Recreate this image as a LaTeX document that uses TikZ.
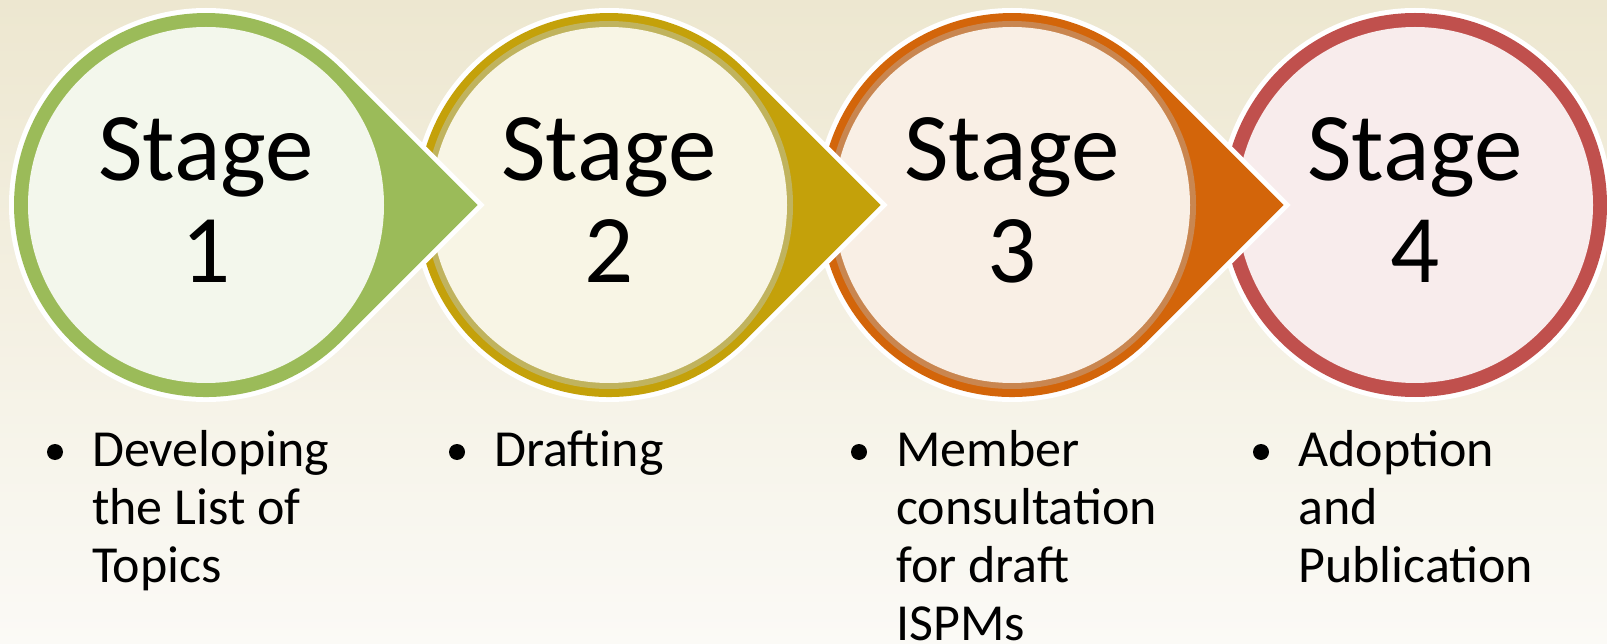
\documentclass[tikz,border=0pt]{standalone}
\usepackage{fontspec}
\setmainfont{Carlito}
\definecolor{bgtop}{HTML}{EDE7D0}
\definecolor{bgbot}{HTML}{FBFAF6}
\definecolor{gr1}{HTML}{9BBB59}
\definecolor{fill1}{HTML}{F3F7EC}
\definecolor{gd2}{HTML}{C4A10A}
\definecolor{gdb2}{HTML}{C0B35E}
\definecolor{fill2}{HTML}{F8F5E5}
\definecolor{or3}{HTML}{D3650A}
\definecolor{orb3}{HTML}{C98650}
\definecolor{fill3}{HTML}{F9EFE5}
\definecolor{red4}{HTML}{C0504D}
\definecolor{fill4}{HTML}{F8ECEC}
\tikzset{
  stagetxt/.style={inner sep=0pt, anchor=base, text=black, font=\fontsize{97}{103}\selectfont},
  bullettxt/.style={inner sep=0pt, anchor=base west, text=black, font=\fontsize{52}{58}\selectfont},
  bulletdot/.style={circle, fill=black, inner sep=0pt, minimum size=16pt},
}
\newcommand\mylines[1]{\vtop{\lineskiplimit=-100pt\baselineskip=58pt #1}}
\begin{document}
\begin{tikzpicture}[x=1pt,y=-1pt]
\shade[top color=bgtop, bottom color=bgbot] (0,0) rectangle (1607,644);
\useasboundingbox (0,0) rectangle (1607,644);
% stage 4: plain circle, no pointer
\fill[white] (1415,205) circle[radius=197];
\fill[red4] (1415,205) circle[radius=192];
\fill[fill4] (1415,205) circle[radius=178];
\node[stagetxt] (s4) at (1415,181) {Stage};
\node[stagetxt] (n4) at (1415,283) {4};
\foreach \cx/\mc/\bc/\fc/\n in {1012/or3/orb3/fill3/3, 609/gd2/gdb2/fill2/2, 206/gr1/gr1/fill1/1}{
  \fill[white] (\cx+139.3,205+139.3) arc[start angle=45,end angle=315,radius=197] -- (\cx+278.6,205) -- cycle;
  \fill[\mc] (\cx+135.8,205+135.8) arc[start angle=45,end angle=315,radius=192] -- (\cx+271.5,205) -- cycle;
  \fill[\bc] (\cx,205) circle[radius=184];
  \fill[\fc] (\cx,205) circle[radius=178];
  \node[stagetxt] (s\n) at (\cx,181) {Stage};
  \node[stagetxt] (n\n) at (\cx,283) {\n};
}
\node[bulletdot] (b1) at (55,452) {};
\node[bullettxt] (t1) at (92,466) {\mylines{\hbox{Developing}\hbox{the List of}\hbox{Topics}}};
\node[bulletdot] (b2) at (457,452) {};
\node[bullettxt] (t2) at (494,466) {\mylines{\hbox{Drafting}}};
\node[bulletdot] (b3) at (859,452) {};
\node[bullettxt] (t3) at (896,466) {\mylines{\hbox{Member}\hbox{consultation}\hbox{for draft}\hbox{ISPMs}}};
\node[bulletdot] (b4) at (1261,452) {};
\node[bullettxt] (t4) at (1298,466) {\mylines{\hbox{Adoption}\hbox{and}\hbox{Publication}}};
\end{tikzpicture}
\end{document}
